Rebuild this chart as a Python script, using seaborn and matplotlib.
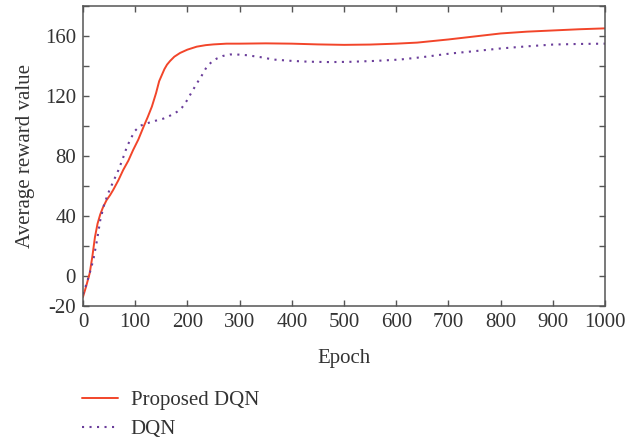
import numpy as np
import pandas as pd
import seaborn as sns
import matplotlib.pyplot as plt

# Values
epoch_proposed = [0, 6, 13, 18, 23, 28, 33, 38, 45, 52, 58, 68, 77, 87, 96, 106, 116, 124, 132, 140,
                  146, 151, 156, 161, 167, 175, 186, 200, 218, 235, 250, 275, 300, 350, 400, 450,
                  500, 550, 600, 640, 700, 750, 800, 850, 900, 950, 1000]
reward_proposed = [-14, -7, 2, 13, 26, 35, 41, 45.5, 50.5, 54, 57.5, 64, 70.7, 77, 84, 91, 99.5, 106, 113,
                   122, 130, 134, 138, 141, 143.5, 146.3, 148.8, 151, 153, 154, 154.5, 155, 155, 155.2,
                   155, 154.5, 154.2, 154.4, 155, 155.7, 157.8, 159.8, 161.8, 163, 163.8, 164.6, 165.2]

epoch_dqn = [0, 7, 13, 20, 27, 33, 40, 48, 58, 68, 76, 84, 92, 100, 110, 122, 138, 154, 167, 180,
             190, 199, 208, 218, 228, 237, 247, 256, 268, 282, 298, 314, 340, 365, 400, 430, 473,
             512, 560, 607, 650, 703, 750, 800, 850, 900, 950, 1000]
reward_dqn = [-12, -5, 2, 11, 24, 37, 47, 55, 63, 70.7, 78, 86, 92, 97, 100.3, 101.8, 103.5, 105,
              107, 109.5, 112.5, 117, 122.5, 128.4, 134, 139.5, 143, 145, 146.8, 147.8, 147.7, 147.3,
              146, 144.4, 143.5, 143, 142.7, 142.9, 143.5, 144.4, 146, 148.4, 150, 151.8, 153.2, 154.4,
              154.8, 155]

df_proposed = pd.DataFrame({"Epoch": epoch_proposed, "Reward": reward_proposed})
df_dqn = pd.DataFrame({"Epoch": epoch_dqn, "Reward": reward_dqn})

sns.set_style("ticks")
plt.rcParams['font.family'] = ['Liberation Serif', 'DejaVu Serif']
text_color = '#333333'
spine_color = '#555555'
fs = 15

fig = plt.figure(figsize=(6.43, 4.41), dpi=100)
ax = fig.add_axes([0.129, 0.306, 0.812, 0.680])

sns.lineplot(data=df_proposed, x="Epoch", y="Reward", ax=ax, color='#f2452a',
             linewidth=1.4, label='Proposed DQN', legend=False)
sns.lineplot(data=df_dqn, x="Epoch", y="Reward", ax=ax, color='#6a3d9a',
             linewidth=1.5, linestyle=(0, (1, 2.6)), label='DQN', legend=False)

ax.set_xlim(0, 1000)
ax.set_ylim(-20, 180)
ax.set_xticks(np.arange(0, 1001, 100))
yt = np.arange(-20, 181, 20)
ax.set_yticks(yt)
ax.set_yticklabels([str(v) if v in (-20, 0, 40, 80, 120, 160) else '' for v in yt])

ax.tick_params(direction='in', top=True, right=True, length=4, width=1,
               color=spine_color, labelsize=fs, labelcolor=text_color, pad=5)
for s in ax.spines.values():
    s.set_color(spine_color)
    s.set_linewidth(1.1)

ax.set_xlabel('Epoch', fontsize=fs, color=text_color, labelpad=12)
ax.set_ylabel('Average reward value', fontsize=fs, color=text_color, labelpad=7)

handles, labels = ax.get_legend_handles_labels()
fig.legend(handles, labels, loc='upper left', bbox_to_anchor=(0.128, 0.115),
           frameon=False, fontsize=fs, labelcolor=text_color, handlelength=1.7,
           handletextpad=0.62, labelspacing=0.45, borderaxespad=0, borderpad=0)

fig.savefig('out.png', dpi=100)
